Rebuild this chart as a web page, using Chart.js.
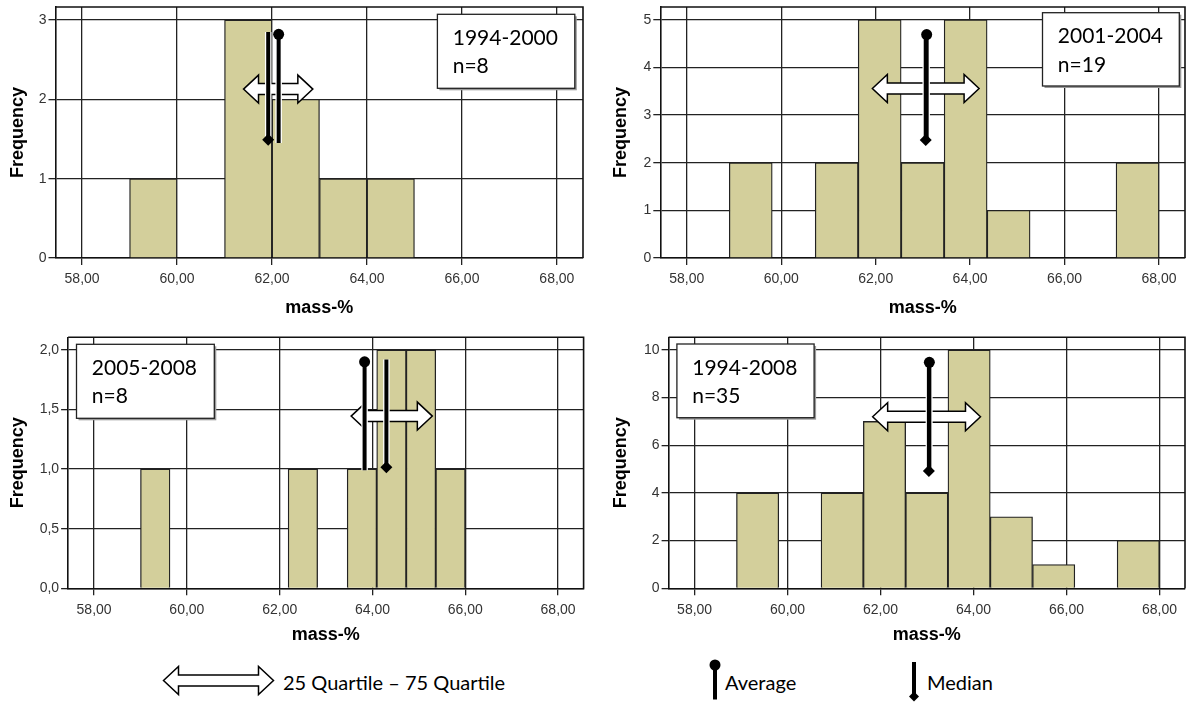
<!DOCTYPE html>
<html>
<head>
<meta charset="utf-8">
<script src="https://cdn.jsdelivr.net/npm/chart.js@4.4.1/dist/chart.umd.min.js"></script>
<style>
  html, body { margin: 0; padding: 0; background: #fff; width: 1191px; height: 702px; overflow: hidden; }
  canvas { position: absolute; }
  #legend { position: absolute; left: 0; top: 650px; }
  .leg { position: absolute; top: 671.6px; font-family: Lato, sans-serif; font-size: 20px; line-height: 20px; color: #000; white-space: nowrap; }
</style>
</head>
<body>
<canvas id="c1" width="595" height="320" style="left:0;top:0"></canvas>
<canvas id="c2" width="591" height="320" style="left:600px;top:0"></canvas>
<canvas id="c3" width="595" height="317" style="left:0;top:330px"></canvas>
<canvas id="c4" width="591" height="317" style="left:600px;top:330px"></canvas>

<svg id="legend" width="1191" height="52">
  <path d="M163.5,30.5 L178.5,16.5 L178.5,25 L258.5,25 L258.5,16.5 L273.5,30.5 L258.5,44.5 L258.5,36 L178.5,36 L178.5,44.5 Z"
        fill="#fff" stroke="#000" stroke-width="1.5" stroke-linejoin="miter"/>
  <line x1="715" y1="15" x2="715" y2="49.5" stroke="#000" stroke-width="4"/>
  <circle cx="715" cy="15" r="5.5" fill="#000"/>
  <line x1="914" y1="12" x2="914" y2="46" stroke="#000" stroke-width="4"/>
  <path d="M914,41.5 L919,46.5 L914,51.5 L909,46.5 Z" fill="#000"/>
</svg>
<div class="leg" style="left:283px">25 Quartile – 75 Quartile</div>
<div class="leg" style="left:725px">Average</div>
<div class="leg" style="left:927px">Median</div>

<script>
// Axe mass-% commun
const massTicks = [58, 60, 62, 64, 66, 68];
const massMin = 57.44;
const massMax = 68.55;

// --- 1994-2000 (n=8) ---
const binsA = [59.5, 60.5, 61.5, 62.5, 63.5, 64.5];
const countsA = [1, 0, 3, 2, 1, 1];
const freqTicksA = [0, 1, 2, 3];
const averageA = [62.14, 2.82, 1.45];   // x, haut, bas
const medianA = [61.92, 2.85, 1.49];
const quartilesA = [61.40, 62.86, 2.13]; // Q25, Q75, hauteur

// --- 2001-2004 (n=19) ---
const binsB = [59.355, 60.265, 61.175, 62.085, 62.995, 63.905, 64.815, 65.725, 66.635, 67.545];
const countsB = [2, 0, 2, 5, 2, 5, 1, 0, 0, 2];
const freqTicksB = [0, 1, 2, 3, 4, 5];
const averageB = [63.08, 4.69, 2.5];
const medianB = [63.06, 4.6, 2.48];
const quartilesB = [61.93, 64.19, 3.56];

// --- 2005-2008 (n=8) ---
const binsC = [59.318, 59.955, 60.591, 61.227, 61.864, 62.5, 63.136, 63.773, 64.409, 65.045, 65.682];
const countsC = [1, 0, 0, 0, 0, 1, 0, 1, 2, 2, 1];
const freqTicksC = [0, 0.5, 1, 1.5, 2];
const averageC = [63.83, 1.90, 0.99];
const medianC = [64.30, 1.92, 1.015];
const quartilesC = [63.54, 65.29, 1.445];

// --- 1994-2008 (n=35) ---
const binsD = [59.355, 60.265, 61.175, 62.085, 62.995, 63.905, 64.815, 65.725, 66.635, 67.545];
const countsD = [4, 0, 4, 7, 4, 10, 3, 1, 0, 2];
const freqTicksD = [0, 2, 4, 6, 8, 10];
const averageD = [63.05, 9.48, 5.0];
const medianD = [63.04, 9.4, 4.92];
const quartilesD = [61.83, 64.15, 7.20];

const panels = [
    { id: 'c1', title: '1994-2000', n: 'n=8', bins: binsA, counts: countsA, yTicks: freqTicksA, yMax: 3.165, dec: 0,
      avg: averageA, med: medianA, iqr: quartilesA,
      area: { left: 55.5, top: 7, right: 583, bottom: 258 }, yTitleX: 18.4, box: { x: 437.4, y: 14.3, w: 137.4, h: 74 } },
    { id: 'c2', title: '2001-2004', n: 'n=19', bins: binsB, counts: countsB, yTicks: freqTicksB, yMax: 5.27, dec: 0,
      avg: averageB, med: medianB, iqr: quartilesB,
      area: { left: 60.3, top: 7, right: 586.9, bottom: 258 }, yTitleX: 21.3, box: { x: 442.5, y: 12.7, w: 136.8, h: 73.3 } },
    { id: 'c3', title: '2005-2008', n: 'n=8', bins: binsC, counts: countsC, yTicks: freqTicksC, yMax: 2.106, dec: 1,
      avg: averageC, med: medianC, iqr: quartilesC,
      area: { left: 68.1, top: 7.3, right: 583.6, bottom: 258.3 }, yTitleX: 18.2, box: { x: 76.5, y: 14.3, w: 137.8, h: 74 } },
    { id: 'c4', title: '1994-2008', n: 'n=35', bins: binsD, counts: countsD, yTicks: freqTicksD, yMax: 10.53, dec: 0,
      avg: averageD, med: medianD, iqr: quartilesD,
      area: { left: 68.6, top: 7.3, right: 586.9, bottom: 258.3 }, yTitleX: 21.1, box: { x: 76.9, y: 14, w: 137.2, h: 73.7 } }
];
const panelById = {};
panels.forEach(p => panelById[p.id] = p);

const SANS = "'Liberation Sans', Arial, sans-serif";
Chart.defaults.font.family = SANS;

// Flèche double (Q25 - Q75)
function drawDoubleArrow(ctx, x1, x2, y, shaft, head, headLen) {
    const hs = shaft / 2, hh = head / 2;
    ctx.beginPath();
    ctx.moveTo(x1, y);
    ctx.lineTo(x1 + headLen, y - hh);
    ctx.lineTo(x1 + headLen, y - hs);
    ctx.lineTo(x2 - headLen, y - hs);
    ctx.lineTo(x2 - headLen, y - hh);
    ctx.lineTo(x2, y);
    ctx.lineTo(x2 - headLen, y + hh);
    ctx.lineTo(x2 - headLen, y + hs);
    ctx.lineTo(x1 + headLen, y + hs);
    ctx.lineTo(x1 + headLen, y + hh);
    ctx.closePath();
    ctx.fillStyle = '#fff';
    ctx.fill();
    ctx.lineWidth = 1.5;
    ctx.strokeStyle = '#000';
    ctx.stroke();
}

const overlayPlugin = {
    id: 'overlay',
    beforeDatasetsDraw(chart) {
        // cadre haut / droite
        const { ctx, chartArea: a } = chart;
        ctx.save();
        ctx.strokeStyle = '#111';
        ctx.lineWidth = 1.6;
        ctx.beginPath();
        ctx.moveTo(a.left, a.top);
        ctx.lineTo(a.right, a.top);
        ctx.lineTo(a.right, a.bottom);
        ctx.stroke();
        ctx.restore();
    },
    afterDatasetDraw(chart, args) {
        if (chart.data.datasets[args.index].type !== 'bar') return;
        const p = panelById[chart.canvas.id];
        const { ctx, scales: { x, y } } = chart;
        ctx.save();
        drawDoubleArrow(ctx, x.getPixelForValue(p.iqr[0]), x.getPixelForValue(p.iqr[1]),
            y.getPixelForValue(p.iqr[2]), 11, 28, 15);
        ctx.restore();
    },
    afterDraw(chart) {
        const p = panelById[chart.canvas.id];
        const { ctx } = chart;
        const b = p.box;
        ctx.save();
        ctx.fillStyle = '#9a9a9a';
        ctx.fillRect(b.x + 2, b.y + 2, b.w, b.h);
        ctx.fillStyle = '#fff';
        ctx.fillRect(b.x, b.y, b.w, b.h);
        ctx.strokeStyle = '#222';
        ctx.lineWidth = 1.3;
        ctx.strokeRect(b.x, b.y, b.w, b.h);
        ctx.fillStyle = '#000';
        ctx.font = '21px Lato';
        ctx.textBaseline = 'alphabetic';
        ctx.fillText(p.title, b.x + 15.3, b.y + 30.7);
        ctx.fillText(p.n, b.x + 15.3, b.y + 59);
        ctx.restore();
    }
};

// trait vertical (moyenne / médiane) + son halo blanc
function stem(pts, color, width, style, radius, order) {
    return {
        type: 'line',
        data: [{ x: pts[0], y: pts[1] }, { x: pts[0], y: pts[2] }],
        borderColor: color,
        borderWidth: width,
        pointStyle: style,
        pointRadius: radius,
        pointBackgroundColor: color,
        pointBorderWidth: 0,
        order: order
    };
}

function makeHistogram(p) {
    const canvas = document.getElementById(p.id);
    const W = canvas.width, H = canvas.height;
    const tickFont = { family: SANS, size: 14 };
    const titleFont = { family: SANS, size: 18, weight: 'bold' };

    return new Chart(canvas, {
        type: 'bar',
        data: {
            datasets: [
                stem(p.avg, '#000', 4, 'circle', [5.5, 0], 0),
                stem(p.med, '#000', 4, 'rectRot', [0, 6], 1),
                stem(p.avg, '#fff', 6.5, 'circle', 0, 2),
                stem(p.med, '#fff', 6.5, 'circle', 0, 2),
                {
                    type: 'bar',
                    data: p.bins.map((b, i) => ({ x: b, y: p.counts[i] })),
                    backgroundColor: '#d3cf9b',
                    borderColor: '#222',
                    borderWidth: 1.3,
                    barPercentage: 1,
                    categoryPercentage: 1,
                    order: 3
                }
            ]
        },
        options: {
            responsive: false,
            animation: false,
            layout: { padding: { left: 0, top: p.area.top, right: W - p.area.right, bottom: 0 } },
            plugins: { legend: { display: false }, tooltip: { enabled: false } },
            scales: {
                x: {
                    type: 'linear',
                    min: massMin,
                    max: massMax,
                    offset: false,
                    afterBuildTicks: s => { s.ticks = massTicks.map(v => ({ value: v })); },
                    afterFit: s => { s.height = H - p.area.bottom; s.paddingLeft = 0; s.paddingRight = 0; },
                    ticks: {
                        callback: v => v.toFixed(2).replace('.', ','),
                        font: tickFont, color: '#333', padding: 6, maxRotation: 0, autoSkip: false
                    },
                    grid: { color: '#222', lineWidth: 1.3, tickLength: 7, offset: false },
                    border: { color: '#111', width: 1.6 },
                    title: { display: true, text: 'mass-%', font: titleFont, color: '#000', padding: { top: 0, bottom: 1.2 } }
                },
                y: {
                    min: 0,
                    max: p.yMax,
                    afterBuildTicks: s => { s.ticks = p.yTicks.map(v => ({ value: v })); },
                    afterFit: s => { s.width = p.area.left; s.paddingTop = 0; s.paddingBottom = 0; },
                    ticks: {
                        callback: v => p.dec ? v.toFixed(1).replace('.', ',') : String(v),
                        font: tickFont, color: '#333', padding: 2
                    },
                    grid: { color: '#222', lineWidth: 1.3, tickLength: 7 },
                    border: { color: '#111', width: 1.6 },
                    title: { display: true, text: 'Frequency', font: titleFont, color: '#000', padding: { top: p.yTitleX - 10.8, bottom: 0 } }
                }
            }
        },
        plugins: [overlayPlugin]
    });
}

panels.forEach(makeHistogram);
</script>
</body>
</html>
